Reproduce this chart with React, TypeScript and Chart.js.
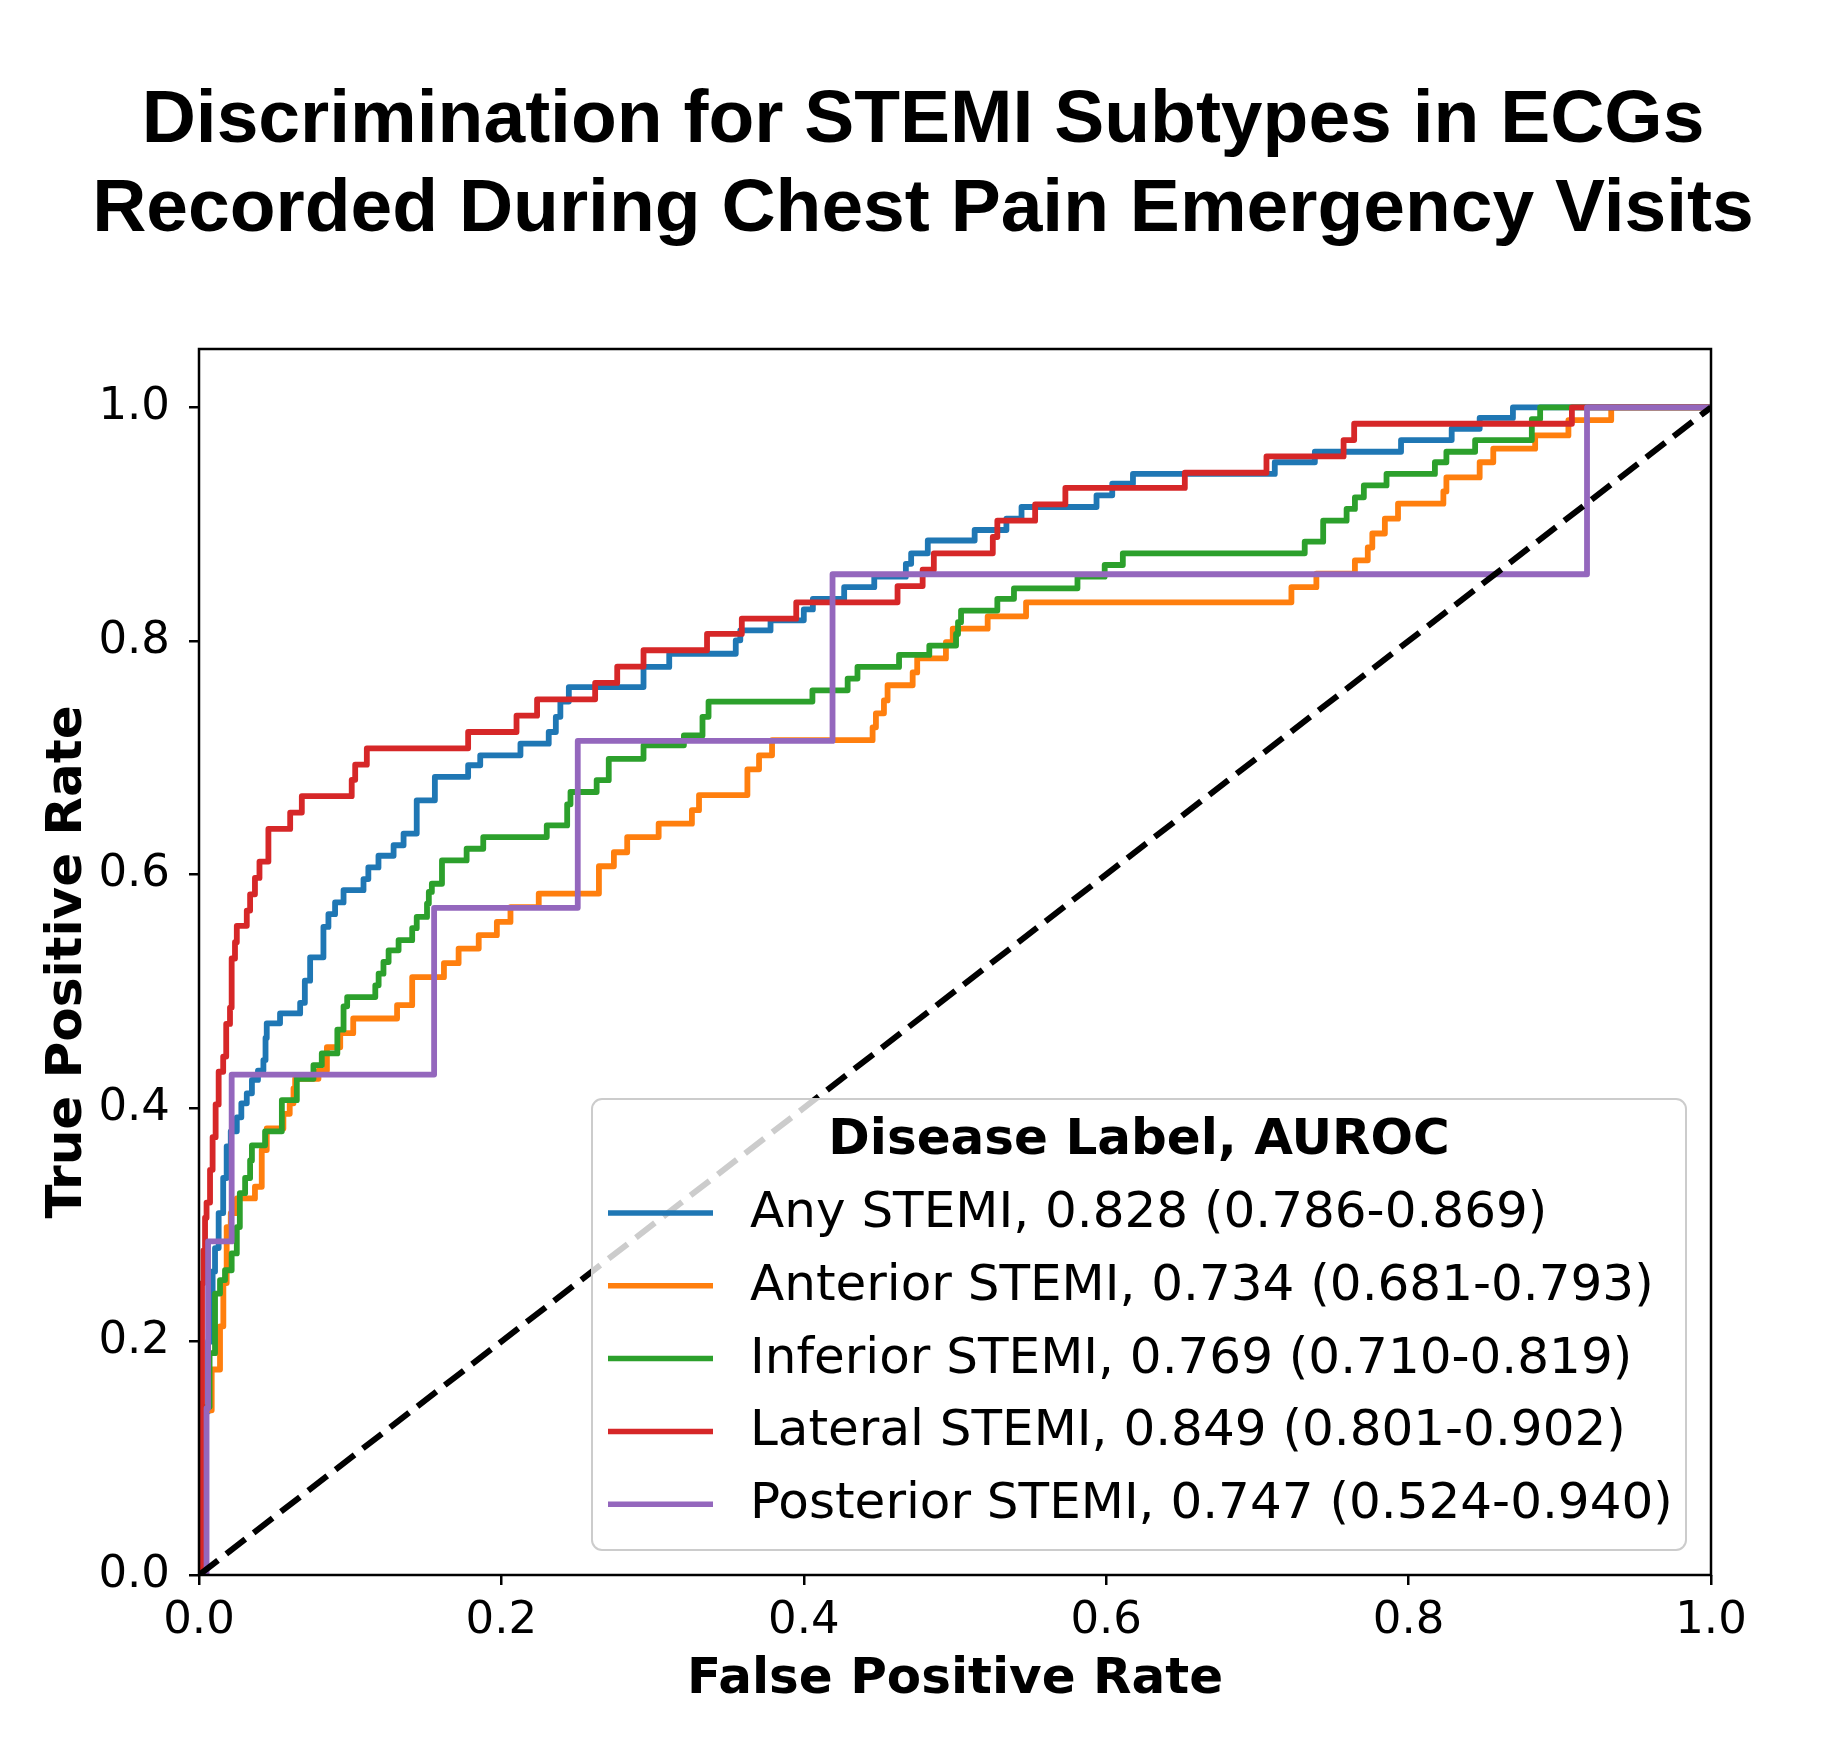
import React, { useEffect, useRef } from "react";
import { Chart, registerables } from "chart.js";

Chart.register(...registerables);

const TITLE_LINES = [
  "Discrimination for STEMI Subtypes in ECGs",
  "Recorded During Chest Pain Emergency Visits",
];
const X_LABEL = "False Positive Rate";
const Y_LABEL = "True Positive Rate";
const LEGEND_TITLE = "Disease Label, AUROC";
const X_TICKS = [0, 0.2, 0.4, 0.6, 0.8, 1.0];
const Y_TICKS = [0, 0.2, 0.4, 0.6, 0.8, 1.0];

const SERIES_LABELS = [
  "Any STEMI, 0.828 (0.786-0.869)",
  "Anterior STEMI, 0.734 (0.681-0.793)",
  "Inferior STEMI, 0.769 (0.710-0.819)",
  "Lateral STEMI, 0.849 (0.801-0.902)",
  "Posterior STEMI, 0.747 (0.524-0.940)",
];
const SERIES_COLORS = ["#1f77b4", "#ff7f0e", "#2ca02c", "#d62728", "#9467bd"];

// Any STEMI
const ANY_FPR = [0, 0.002, 0.004, 0.006, 0.009, 0.0106, 0.013, 0.016, 0.0183, 0.021, 0.025, 0.028, 0.0316, 0.035, 0.039, 0.0426, 0.044, 0.0448, 0.0536, 0.0669, 0.07, 0.0735, 0.0823, 0.0856, 0.09, 0.0956, 0.1088, 0.112, 0.1187, 0.1287, 0.1353, 0.144, 0.156, 0.178, 0.186, 0.2126, 0.2313, 0.236, 0.239, 0.2446, 0.294, 0.311, 0.355, 0.358, 0.378, 0.4, 0.406, 0.4267, 0.4466, 0.4675, 0.471, 0.482, 0.513, 0.534, 0.544, 0.5936, 0.604, 0.6177, 0.7115, 0.738, 0.795, 0.8285, 0.847, 0.869, 1.0];
const ANY_TPR = [0, 0.06, 0.14, 0.2, 0.26, 0.28, 0.31, 0.34, 0.367, 0.38, 0.392, 0.404, 0.4125, 0.424, 0.432, 0.441, 0.46, 0.4725, 0.481, 0.49, 0.509, 0.529, 0.555, 0.566, 0.576, 0.5865, 0.596, 0.606, 0.616, 0.625, 0.635, 0.6635, 0.6835, 0.6935, 0.702, 0.712, 0.722, 0.735, 0.748, 0.7605, 0.7777, 0.789, 0.8005, 0.809, 0.8176, 0.827, 0.836, 0.846, 0.855, 0.866, 0.875, 0.886, 0.895, 0.9047, 0.9147, 0.9247, 0.9347, 0.943, 0.953, 0.962, 0.972, 0.9817, 0.991, 1.0, 1.0];

// Anterior STEMI
const ANT_FPR = [0, 0.004, 0.0084, 0.0139, 0.0161, 0.0183, 0.021, 0.025, 0.037, 0.0415, 0.0448, 0.0558, 0.06, 0.0625, 0.0636, 0.079, 0.0846, 0.0934, 0.102, 0.131, 0.141, 0.162, 0.1717, 0.185, 0.197, 0.206, 0.2247, 0.2645, 0.2744, 0.2832, 0.304, 0.326, 0.3307, 0.3627, 0.3704, 0.379, 0.4455, 0.4477, 0.453, 0.4554, 0.472, 0.475, 0.494, 0.4985, 0.5216, 0.547, 0.7225, 0.739, 0.7645, 0.773, 0.776, 0.7843, 0.793, 0.823, 0.825, 0.847, 0.856, 0.8837, 0.9057, 0.934, 1.0];
const ANT_TPR = [0, 0.141, 0.176, 0.213, 0.25, 0.298, 0.31, 0.3225, 0.3325, 0.364, 0.3825, 0.395, 0.404, 0.4167, 0.425, 0.432, 0.452, 0.464, 0.4766, 0.488, 0.512, 0.524, 0.5365, 0.548, 0.5593, 0.572, 0.5836, 0.607, 0.619, 0.632, 0.6435, 0.655, 0.668, 0.69, 0.702, 0.715, 0.726, 0.738, 0.749, 0.762, 0.773, 0.785, 0.799, 0.8105, 0.821, 0.833, 0.846, 0.8576, 0.869, 0.88, 0.892, 0.9047, 0.9175, 0.928, 0.94, 0.953, 0.9646, 0.976, 0.989, 1.0, 1.0];

// Inferior STEMI
const INF_FPR = [0, 0.003, 0.004, 0.007, 0.0106, 0.0139, 0.0172, 0.0216, 0.025, 0.027, 0.0305, 0.0338, 0.035, 0.0437, 0.0548, 0.0647, 0.0757, 0.0812, 0.0915, 0.0956, 0.098, 0.1166, 0.1188, 0.122, 0.1254, 0.132, 0.141, 0.144, 0.1508, 0.152, 0.154, 0.1607, 0.177, 0.188, 0.23, 0.2435, 0.2457, 0.263, 0.271, 0.294, 0.3207, 0.333, 0.337, 0.4057, 0.429, 0.4355, 0.463, 0.483, 0.5007, 0.502, 0.504, 0.528, 0.539, 0.581, 0.599, 0.611, 0.7313, 0.7435, 0.759, 0.7645, 0.7704, 0.7854, 0.8174, 0.825, 0.844, 0.8815, 0.887, 1.0];
const INF_TPR = [0, 0.07, 0.144, 0.19, 0.241, 0.2526, 0.261, 0.2754, 0.298, 0.327, 0.34, 0.355, 0.368, 0.38, 0.4067, 0.425, 0.4366, 0.4467, 0.467, 0.487, 0.495, 0.505, 0.515, 0.525, 0.535, 0.5437, 0.554, 0.5636, 0.575, 0.585, 0.592, 0.612, 0.622, 0.632, 0.642, 0.66, 0.6706, 0.6807, 0.699, 0.7106, 0.719, 0.735, 0.748, 0.7577, 0.7677, 0.7777, 0.788, 0.796, 0.806, 0.816, 0.826, 0.836, 0.845, 0.855, 0.865, 0.875, 0.885, 0.903, 0.913, 0.923, 0.9332, 0.943, 0.953, 0.962, 0.972, 0.99, 1.0, 1.0];

// Lateral STEMI
const LAT_FPR = [0, 0.002, 0.003, 0.004, 0.005, 0.0073, 0.009, 0.011, 0.013, 0.016, 0.018, 0.0205, 0.0216, 0.0238, 0.025, 0.0316, 0.0338, 0.037, 0.04, 0.0459, 0.0603, 0.068, 0.101, 0.1033, 0.111, 0.178, 0.21, 0.2236, 0.262, 0.2766, 0.294, 0.336, 0.359, 0.395, 0.462, 0.4786, 0.486, 0.525, 0.528, 0.553, 0.573, 0.652, 0.706, 0.757, 0.764, 0.908, 1.0];
const LAT_TPR = [0, 0.25, 0.278, 0.306, 0.319, 0.347, 0.375, 0.403, 0.431, 0.444, 0.472, 0.486, 0.528, 0.542, 0.556, 0.569, 0.583, 0.597, 0.611, 0.639, 0.653, 0.667, 0.681, 0.694, 0.708, 0.722, 0.736, 0.75, 0.764, 0.778, 0.792, 0.806, 0.819, 0.833, 0.847, 0.861, 0.875, 0.889, 0.903, 0.917, 0.931, 0.944, 0.958, 0.972, 0.986, 1.0, 1.0];

// Posterior STEMI
const POST_FPR = [0, 0.005, 0.006, 0.0216, 0.1555, 0.2505, 0.419, 0.918, 1.0];
const POST_TPR = [0, 0.1429, 0.2857, 0.4286, 0.5714, 0.7143, 0.8571, 1.0, 1.0];

// Chance line
const CHANCE_FPR = [0, 1];
const CHANCE_TPR = [0, 1];

const SERIES_FPR = [ANY_FPR, ANT_FPR, INF_FPR, LAT_FPR, POST_FPR];
const SERIES_TPR = [ANY_TPR, ANT_TPR, INF_TPR, LAT_TPR, POST_TPR];

const W = 1834;
const H = 1757;
const FAMILY = "'DejaVu Sans', sans-serif";

const toPoints = (xs: number[], ys: number[]) => xs.map((x, i) => ({ x, y: ys[i] }));

const framePlugin = {
  id: "frame",
  afterDatasetsDraw(chart: any) {
    const { ctx, chartArea } = chart;
    ctx.save();
    ctx.strokeStyle = "#000";
    ctx.lineWidth = 2.5;
    ctx.strokeRect(chartArea.left, chartArea.top, chartArea.right - chartArea.left, chartArea.bottom - chartArea.top);
    ctx.restore();
  },
};

const titlePlugin = {
  id: "figTitle",
  afterDraw(chart: any) {
    const ctx = chart.ctx;
    ctx.save();
    ctx.fillStyle = "#000";
    ctx.font = "bold 75px 'Liberation Sans', Arial, sans-serif";
    ctx.textAlign = "center";
    ctx.textBaseline = "alphabetic";
    ctx.fillText(TITLE_LINES[0], 923, 142);
    ctx.fillText(TITLE_LINES[1], 923, 231);
    ctx.restore();
  },
};

const legendPlugin = {
  id: "rocLegend",
  afterDraw(chart: any) {
    const ctx = chart.ctx;
    const x0 = 592, y0 = 1099, x1 = 1686, y1 = 1550, r = 10;
    ctx.save();
    ctx.beginPath();
    ctx.moveTo(x0 + r, y0);
    ctx.lineTo(x1 - r, y0);
    ctx.arcTo(x1, y0, x1, y0 + r, r);
    ctx.lineTo(x1, y1 - r);
    ctx.arcTo(x1, y1, x1 - r, y1, r);
    ctx.lineTo(x0 + r, y1);
    ctx.arcTo(x0, y1, x0, y1 - r, r);
    ctx.lineTo(x0, y0 + r);
    ctx.arcTo(x0, y0, x0 + r, y0, r);
    ctx.closePath();
    ctx.fillStyle = "rgba(255,255,255,0.8)";
    ctx.fill();
    ctx.strokeStyle = "#cccccc";
    ctx.lineWidth = 2;
    ctx.stroke();

    ctx.fillStyle = "#000";
    ctx.textBaseline = "middle";
    ctx.textAlign = "center";
    ctx.font = `bold 50px ${FAMILY}`;
    ctx.fillText(LEGEND_TITLE, (x0 + x1) / 2, 1141);

    ctx.textAlign = "left";
    ctx.font = `50px ${FAMILY}`;
    let row = 0;
    chart.data.datasets.forEach((ds: any) => {
      if (!ds.label) return;
      const y = 1213 + row * 72.8;
      ctx.strokeStyle = ds.borderColor;
      ctx.lineWidth = 5.5;
      ctx.beginPath();
      ctx.moveTo(608, y);
      ctx.lineTo(713, y);
      ctx.stroke();
      ctx.fillText(ds.label, 750, y + 1);
      row++;
    });
    ctx.restore();
  },
};

export default function App() {
  const ref = useRef<HTMLCanvasElement | null>(null);

  useEffect(() => {
    document.body.style.margin = "0";
    const canvas = ref.current;
    if (!canvas) return;
    const n = SERIES_LABELS.length;
    const datasets: any[] = SERIES_LABELS.map((label, i) => ({
      label,
      data: toPoints(SERIES_FPR[i], SERIES_TPR[i]),
      borderColor: SERIES_COLORS[i],
      backgroundColor: SERIES_COLORS[i],
      borderWidth: 5.8,
      stepped: "before",
      pointRadius: 0,
      fill: false,
      borderJoinStyle: "round",
      order: n - i,
    }));
    datasets.push({
      label: "",
      data: toPoints(CHANCE_FPR, CHANCE_TPR),
      borderColor: "#000",
      borderWidth: 6,
      borderDash: [24, 10.5],
      pointRadius: 0,
      fill: false,
      order: 0,
    });

    const tickFont = { family: FAMILY, size: 45 };
    const titleFont = { family: FAMILY, size: 50, weight: "bold" as const };

    const chart = new Chart(canvas, {
      type: "line",
      data: { datasets },
      options: {
        animation: false,
        responsive: false,
        devicePixelRatio: 1,
        layout: { padding: { top: 349, right: 123, left: 0, bottom: 0 } },
        plugins: {
          legend: { display: false },
          tooltip: { enabled: false },
          title: { display: false },
        },
        elements: { point: { radius: 0 } },
        scales: {
          x: {
            type: "linear",
            min: 0,
            max: 1,
            afterFit: (s: any) => {
              s.height = 182;
            },
            afterBuildTicks: (s: any) => {
              s.ticks = X_TICKS.map((v) => ({ value: v }));
            },
            ticks: {
              callback: (v: any) => Number(v).toFixed(1),
              font: tickFont,
              color: "#000",
              padding: 9,
              autoSkip: false,
              maxRotation: 0,
            },
            grid: {
              display: true,
              drawOnChartArea: false,
              drawTicks: true,
              tickLength: 10,
              tickWidth: 2.5,
              lineWidth: 2.5,
              tickColor: "#000",
              color: "#000",
            },
            border: { display: false },
            title: {
              display: true,
              text: X_LABEL,
              font: titleFont,
              color: "#000",
              padding: { top: 0, bottom: 47 },
            },
          },
          y: {
            type: "linear",
            min: 0,
            max: 1.05,
            afterFit: (s: any) => {
              s.width = 199;
            },
            afterBuildTicks: (s: any) => {
              s.ticks = Y_TICKS.map((v) => ({ value: v }));
            },
            ticks: {
              callback: (v: any) => Number(v).toFixed(1),
              font: tickFont,
              color: "#000",
              padding: 19,
              autoSkip: false,
            },
            grid: {
              display: true,
              drawOnChartArea: false,
              drawTicks: true,
              tickLength: 10,
              tickWidth: 2.5,
              lineWidth: 2.5,
              tickColor: "#000",
              color: "#000",
            },
            border: { display: false },
            title: {
              display: true,
              text: Y_LABEL,
              font: titleFont,
              color: "#000",
              padding: { top: 38, bottom: 0 },
            },
          },
        },
      } as any,
      plugins: [framePlugin, legendPlugin, titlePlugin],
    });
    return () => chart.destroy();
  }, []);

  return (
    <div style={{ position: "fixed", left: 0, top: 0, width: W, height: H, background: "#fff" }}>
      <canvas ref={ref} width={W} height={H} style={{ width: W, height: H, display: "block" }} />
    </div>
  );
}
